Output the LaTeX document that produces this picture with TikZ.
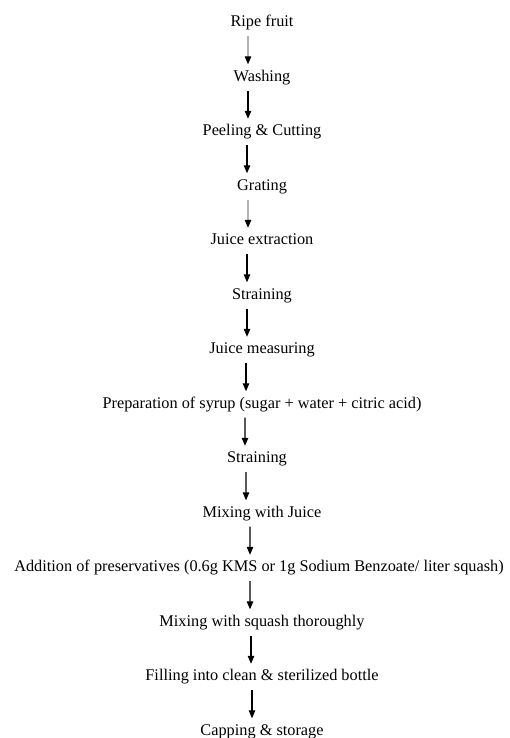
\documentclass[tikz,border=0pt]{standalone}
\usepackage{fontspec}
\setmainfont{Liberation Serif}
\usetikzlibrary{arrows.meta}
\tikzset{
  stepnode/.style={inner sep=0pt, text height=10bp, text depth=3bp, font=\fontsize{16.3bp}{19bp}\selectfont},
  flow/.style={line width=1.1bp, -{Triangle[length=8bp,width=6.5bp]}, shorten <=6.5bp, shorten >=6.5bp},
  faint/.style={draw=black!30, -{Triangle[length=8bp,width=6.5bp,color=black]}}
}
\begin{document}
\begin{tikzpicture}[x=1bp,y=-1bp]
\useasboundingbox (0,0) rectangle (510,738);
\node[stepnode] (n1) at (262,23) {Ripe fruit};
\node[stepnode] (n2) at (262,77.5) {Washing};
\node[stepnode] (n3) at (262,132) {Peeling \& Cutting};
\node[stepnode] (n4) at (262,186.5) {Grating};
\node[stepnode] (n5) at (262,241) {Juice extraction};
\node[stepnode] (n6) at (262,295.5) {Straining};
\node[stepnode] (n7) at (262,350) {Juice measuring};
\node[stepnode] (n8) at (262,404.5) {Preparation of syrup (sugar + water + citric acid)};
\node[stepnode] (n9) at (257,459) {Straining};
\node[stepnode] (n10) at (262,513.5) {Mixing with Juice};
\node[stepnode] (n11) at (259,568) {Addition of preservatives (0.6g KMS or 1g Sodium Benzoate/ liter squash)};
\node[stepnode] (n12) at (262,622.5) {Mixing with squash thoroughly};
\node[stepnode] (n13) at (262,677) {Filling into clean \& sterilized bottle};
\node[stepnode] (n14) at (262,731.5) {Capping \& storage};
\draw[flow,faint] ([xshift=-14bp]n1.south) -- ([xshift=-14bp]n2.north);
\draw[flow] ([xshift=-14bp]n2.south) -- ([xshift=-14bp]n3.north);
\draw[flow] ([xshift=-15bp]n3.south) -- ([xshift=-15bp]n4.north);
\draw[flow,faint] ([xshift=-14bp]n4.south) -- ([xshift=-14bp]n5.north);
\draw[flow] ([xshift=-15bp]n5.south) -- ([xshift=-15bp]n6.north);
\draw[flow] ([xshift=-15bp]n6.south) -- ([xshift=-15bp]n7.north);
\draw[flow] ([xshift=-16bp]n7.south) -- ([xshift=-16bp]n8.north);
\draw[flow] ([xshift=-17bp]n8.south) -- ([xshift=-12bp]n9.north);
\draw[flow] ([xshift=-11bp]n9.south) -- ([xshift=-16bp]n10.north);
\draw[flow] ([xshift=-12bp]n10.south) -- ([xshift=-9bp]n11.north);
\draw[flow] ([xshift=-9bp]n11.south) -- ([xshift=-12bp]n12.north);
\draw[flow] ([xshift=-11bp]n12.south) -- ([xshift=-11bp]n13.north);
\draw[flow] ([xshift=-10bp]n13.south) -- ([xshift=-10bp]n14.north);
\end{tikzpicture}
\end{document}
